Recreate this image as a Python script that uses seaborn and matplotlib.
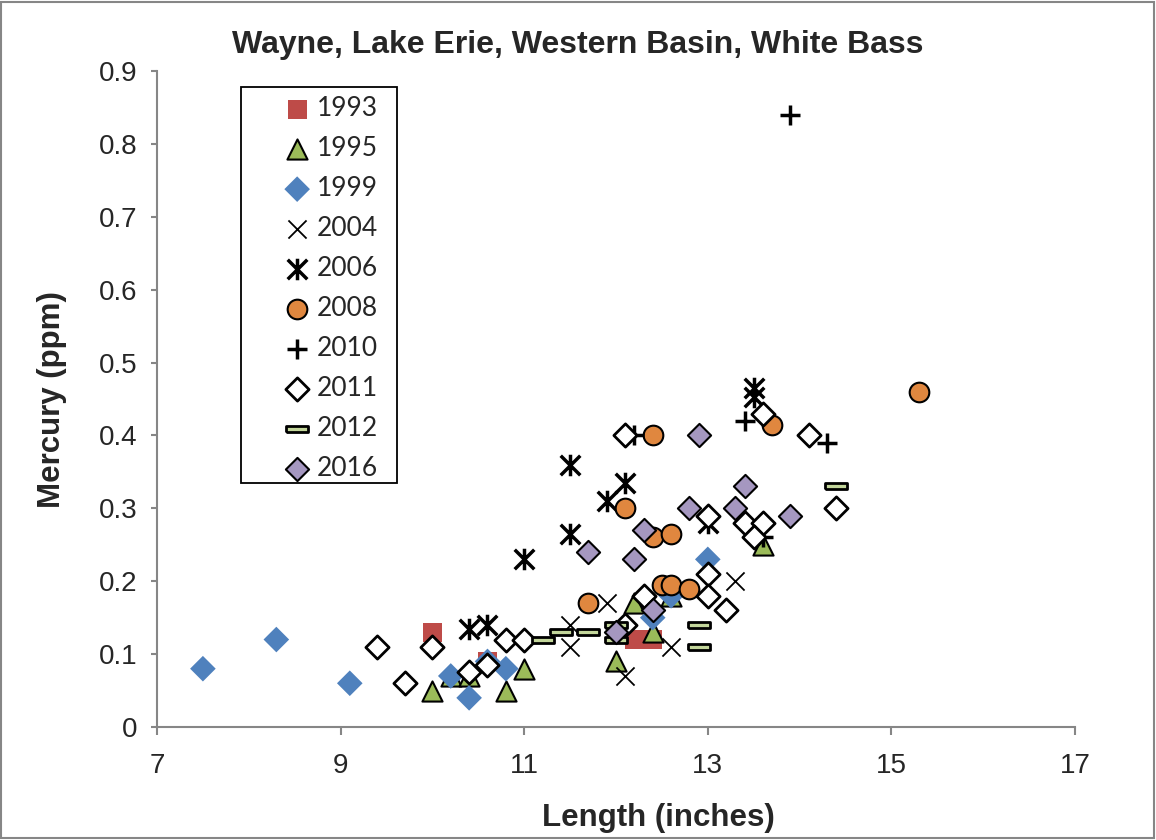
import numpy as np
import pandas as pd
import seaborn as sns
import matplotlib.pyplot as plt
from matplotlib.patches import Rectangle
from matplotlib.path import Path

# data (length in inches, mercury in ppm)
x_1993 = [10.0, 10.6, 12.2, 12.4]
y_1993 = [0.13, 0.09, 0.12, 0.12]

x_1995 = [10.0, 10.2, 10.4, 10.8, 11.0, 12.0, 12.2, 12.4, 12.6, 13.6]
y_1995 = [0.05, 0.07, 0.07, 0.05, 0.08, 0.09, 0.17, 0.13, 0.18, 0.25]

x_1999 = [7.5, 8.3, 9.1, 10.2, 10.4, 10.6, 10.8, 12.4, 12.6, 13.0]
y_1999 = [0.08, 0.12, 0.06, 0.07, 0.04, 0.09, 0.08, 0.15, 0.18, 0.23]

x_2004 = [11.5, 11.5, 11.9, 12.1, 12.6, 13.3]
y_2004 = [0.14, 0.11, 0.17, 0.07, 0.11, 0.20]

x_2006 = [10.4, 10.6, 11.0, 11.5, 11.5, 11.9, 12.1, 13.0, 13.5, 13.5]
y_2006 = [0.135, 0.14, 0.23, 0.265, 0.36, 0.31, 0.335, 0.28, 0.465, 0.453]

x_2008 = [11.7, 12.1, 12.4, 12.4, 12.6, 12.5, 12.6, 12.8, 13.7, 15.3]
y_2008 = [0.17, 0.30, 0.40, 0.26, 0.265, 0.195, 0.195, 0.19, 0.415, 0.46]

x_2010 = [13.9, 12.2, 13.4, 14.3, 13.6]
y_2010 = [0.84, 0.40, 0.42, 0.39, 0.26]

x_2011 = [9.4, 9.7, 10.0, 10.4, 10.6, 10.8, 11.0, 12.1, 12.3, 12.1, 13.0,
          13.0, 13.2, 13.0, 13.4, 13.6, 13.5, 13.6, 14.1, 14.4]
y_2011 = [0.11, 0.06, 0.11, 0.075, 0.085, 0.12, 0.12, 0.40, 0.18, 0.14, 0.21,
          0.18, 0.16, 0.29, 0.28, 0.28, 0.26, 0.43, 0.40, 0.30]

x_2012 = [11.2, 11.4, 11.7, 12.0, 12.0, 12.9, 12.9, 14.4]
y_2012 = [0.12, 0.13, 0.13, 0.14, 0.12, 0.14, 0.11, 0.33]

x_2016 = [12.9, 13.4, 13.3, 12.8, 12.3, 11.7, 12.2, 12.4, 12.0, 13.9]
y_2016 = [0.40, 0.33, 0.30, 0.30, 0.27, 0.24, 0.23, 0.16, 0.13, 0.29]

years = ["1993", "1995", "1999", "2004", "2006", "2008", "2010", "2011", "2012", "2016"]
xs = [x_1993, x_1995, x_1999, x_2004, x_2006, x_2008, x_2010, x_2011, x_2012, x_2016]
ys = [y_1993, y_1995, y_1999, y_2004, y_2006, y_2008, y_2010, y_2011, y_2012, y_2016]

# Excel-like markers: flat dash and "x with vertical bar" star
dash = [(-1, -0.28), (1, -0.28), (1, 0.28), (-1, 0.28), (-1, -0.28)]
star = Path([(-1, -1), (1, 1), (-1, 1), (1, -1), (0, -1.1), (0, 1.1)],
            [Path.MOVETO, Path.LINETO, Path.MOVETO, Path.LINETO, Path.MOVETO, Path.LINETO])

styles = {
    "1993": dict(marker="s", s=190, color="#BE4B48", edgecolor="none"),
    "1995": dict(marker="^", s=210, color="#9BBB59", edgecolor="black", linewidth=1.5),
    "1999": dict(marker="D", s=170, color="#4F81BD", edgecolor="none"),
    "2004": dict(marker="x", s=170, color="black", linewidth=1.3),
    "2006": dict(marker=star, s=240, color="black", edgecolor="black", linewidth=2.5),
    "2008": dict(marker="o", s=200, color="#E0873F", edgecolor="black", linewidth=1.5),
    "2010": dict(marker="+", s=190, color="black", linewidth=2.5),
    "2011": dict(marker="D", s=140, color="white", edgecolor="black", linewidth=2),
    "2012": dict(marker=dash, s=230, color="#C3D69B", edgecolor="black", linewidth=2),
    "2016": dict(marker="D", s=140, color="#A597C0", edgecolor="black", linewidth=1.5),
}

sns.set_style("white")
plt.rcParams["font.family"] = ["Liberation Sans", "DejaVu Sans"]

fig = plt.figure(figsize=(11.56, 8.4), dpi=100)
ax = fig.add_axes([157 / 1156, 113 / 840, 918 / 1156, 656 / 840])

for yr, xv, yv in zip(years, xs, ys):
    df = pd.DataFrame({"Length": xv, "Mercury": yv})
    sns.scatterplot(data=df, x="Length", y="Mercury", ax=ax, label=yr, **styles[yr])

ax.set_xlim(7, 17)
ax.set_ylim(0, 0.9)
ax.set_xticks([7, 9, 11, 13, 15, 17])
ax.set_yticks(np.arange(0, 0.91, 0.1))
ax.set_yticklabels(["0"] + [f"{v:.1f}" for v in np.arange(0.1, 0.91, 0.1)])
ax.set_xlabel("")
ax.set_ylabel("")

gray = "#868686"
for side in ["top", "right"]:
    ax.spines[side].set_visible(False)
for side in ["left", "bottom"]:
    ax.spines[side].set_color(gray)
    ax.spines[side].set_linewidth(1.5)
ax.tick_params(axis="y", direction="out", length=4, width=1.5, color=gray,
               labelsize=20, pad=10, left=True)
ax.tick_params(axis="x", direction="out", length=6, width=1.5, color=gray,
               labelsize=20, pad=13, bottom=True)

# titles
fig.text(0.5, 1 - 45 / 840, "Wayne, Lake Erie, Western Basin, White Bass",
         ha="center", va="center", fontsize=23, fontweight="bold")
fig.text(658 / 1156, 1 - 818 / 840, "Length (inches)", ha="center", va="center",
         fontsize=22.5, fontweight="bold")
fig.text(52 / 1156, 1 - 400 / 840, "Mercury (ppm)", ha="center", va="center",
         rotation=90, fontsize=22.5, fontweight="bold")

# legend with a plain black frame
leg = ax.legend(loc="upper left", bbox_to_anchor=((280 - 157) / 918, (727 - 96) / 656),
                frameon=False, prop={"family": "Lato", "size": 19},
                handlelength=1.3, handletextpad=0.1, labelspacing=0.57,
                borderaxespad=0, borderpad=0)
ax.add_patch(Rectangle(((241 - 157) / 918, (727 - 483) / 656), 156 / 918, 396 / 656,
                       transform=ax.transAxes, fill=False, edgecolor="black",
                       linewidth=1.3, zorder=5))

# chart border
fig.patches.append(Rectangle((0.001, 0.002), 0.997, 0.996, transform=fig.transFigure,
                             fill=False, edgecolor=gray, linewidth=1.5))

fig.savefig("out.png", dpi=100)
